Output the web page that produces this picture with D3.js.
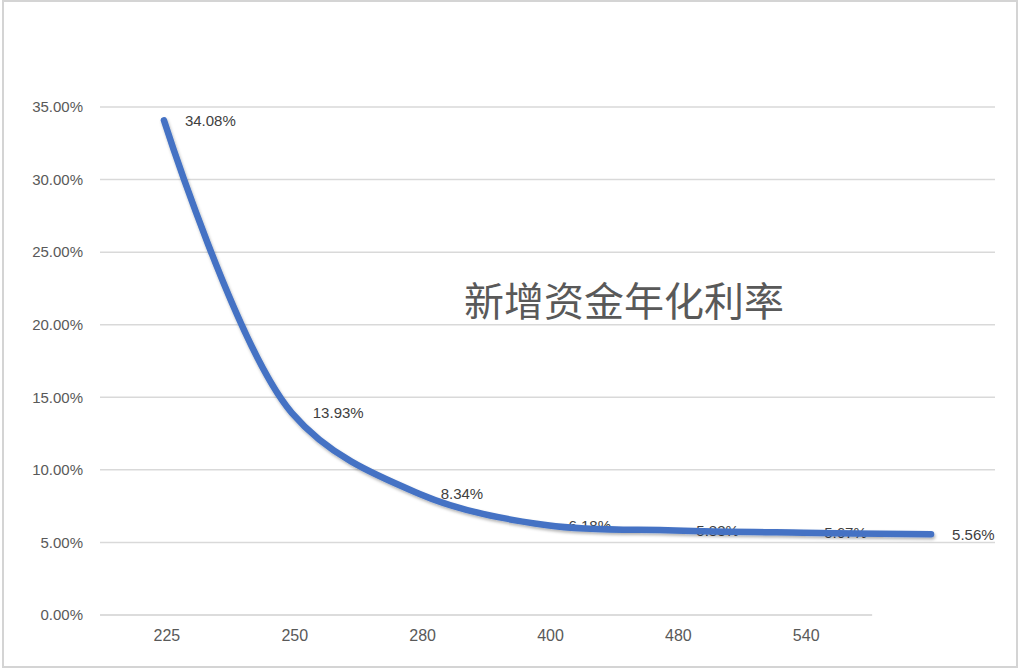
<!DOCTYPE html>
<html>
<head>
<meta charset="utf-8">
<script src="https://cdn.jsdelivr.net/npm/d3@7"></script>
<style>
  body { margin: 0; background: #fff; }
  svg text { font-family: "Liberation Sans", Arial, sans-serif; }
</style>
</head>
<body>
<div id="chart"></div>
<script>
// data
var categories = ["225", "250", "280", "400", "480", "540", ""];
var rates = [34.08, 13.93, 8.34, 6.18, 5.83, 5.67, 5.56];
var yTicks = [0, 5, 10, 15, 20, 25, 30, 35];
var title = "新增资金年化利率";

var width = 1024, height = 670;
var plotLeft = 100, plotRight = 995, plotTop = 107, plotBottom = 615;

var svg = d3.select("#chart").append("svg")
    .attr("width", width)
    .attr("height", height);

// outer frame
svg.append("rect")
    .attr("x", 3).attr("y", 1)
    .attr("width", 1014).attr("height", 666)
    .attr("fill", "#fff")
    .attr("stroke", "#d4d4d4")
    .attr("stroke-width", 2);

var x = d3.scaleBand().domain(d3.range(categories.length)).range([plotLeft, plotRight]);
var y = d3.scaleLinear().domain([0, 35]).range([plotBottom, plotTop]);

// gridlines
svg.append("g").selectAll("line")
    .data(yTicks.filter(function(d){ return d > 0; }))
    .enter().append("line")
    .attr("x1", plotLeft).attr("x2", plotRight)
    .attr("y1", function(d){ return y(d); })
    .attr("y2", function(d){ return y(d); })
    .attr("stroke", "#d9d9d9")
    .attr("stroke-width", 1.5);

// baseline (stops short like the original)
svg.append("line")
    .attr("x1", plotLeft).attr("x2", x(5) + x.bandwidth() + 5)
    .attr("y1", y(0)).attr("y2", y(0))
    .attr("stroke", "#d0d0d0")
    .attr("stroke-width", 1.5);

// y axis labels
svg.append("g").selectAll("text")
    .data(yTicks)
    .enter().append("text")
    .attr("x", 83)
    .attr("y", function(d){ return y(d); })
    .attr("dy", "0.35em")
    .attr("text-anchor", "end")
    .attr("font-size", 15)
    .attr("fill", "#595959")
    .text(function(d){ return d.toFixed(2) + "%"; });

// x axis labels
svg.append("g").selectAll("text")
    .data(categories)
    .enter().append("text")
    .attr("x", function(d,i){ return x(i) + x.bandwidth() / 2 + 3; })
    .attr("y", 641)
    .attr("text-anchor", "middle")
    .attr("font-size", 16)
    .attr("fill", "#595959")
    .text(function(d){ return d; });

// title inside plot
svg.append("text")
    .attr("x", 624)
    .attr("y", 316)
    .attr("text-anchor", "middle")
    .attr("font-size", 40)
    .attr("fill", "#595959")
    .style("font-family", "'Noto Sans CJK SC', sans-serif")
    .text(title);

// data labels (sit under the line)
svg.append("g").selectAll("text")
    .data(rates)
    .enter().append("text")
    .attr("x", function(d,i){ return x(i) + x.bandwidth() / 2 + 21; })
    .attr("y", function(d){ return y(d); })
    .attr("dy", "0.35em")
    .attr("font-size", 15)
    .attr("fill", "#404040")
    .text(function(d){ return d.toFixed(2) + "%"; });

// shadow for the line
var defs = svg.append("defs");
var f = defs.append("filter").attr("id", "shadow")
    .attr("x", "-10%").attr("y", "-10%").attr("width", "120%").attr("height", "120%");
f.append("feDropShadow")
    .attr("dx", 1).attr("dy", 2)
    .attr("stdDeviation", 1.5)
    .attr("flood-color", "#000")
    .attr("flood-opacity", 0.3);

var line = d3.line()
    .x(function(d,i){ return x(i) + x.bandwidth() / 2; })
    .y(function(d){ return y(d); })
    .curve(d3.curveCatmullRom.alpha(0.5));

svg.append("path")
    .datum(rates)
    .attr("d", line)
    .attr("fill", "none")
    .attr("stroke", "#4472c4")
    .attr("stroke-width", 6.5)
    .attr("stroke-linecap", "round")
    .attr("filter", "url(#shadow)");
</script>
</body>
</html>
